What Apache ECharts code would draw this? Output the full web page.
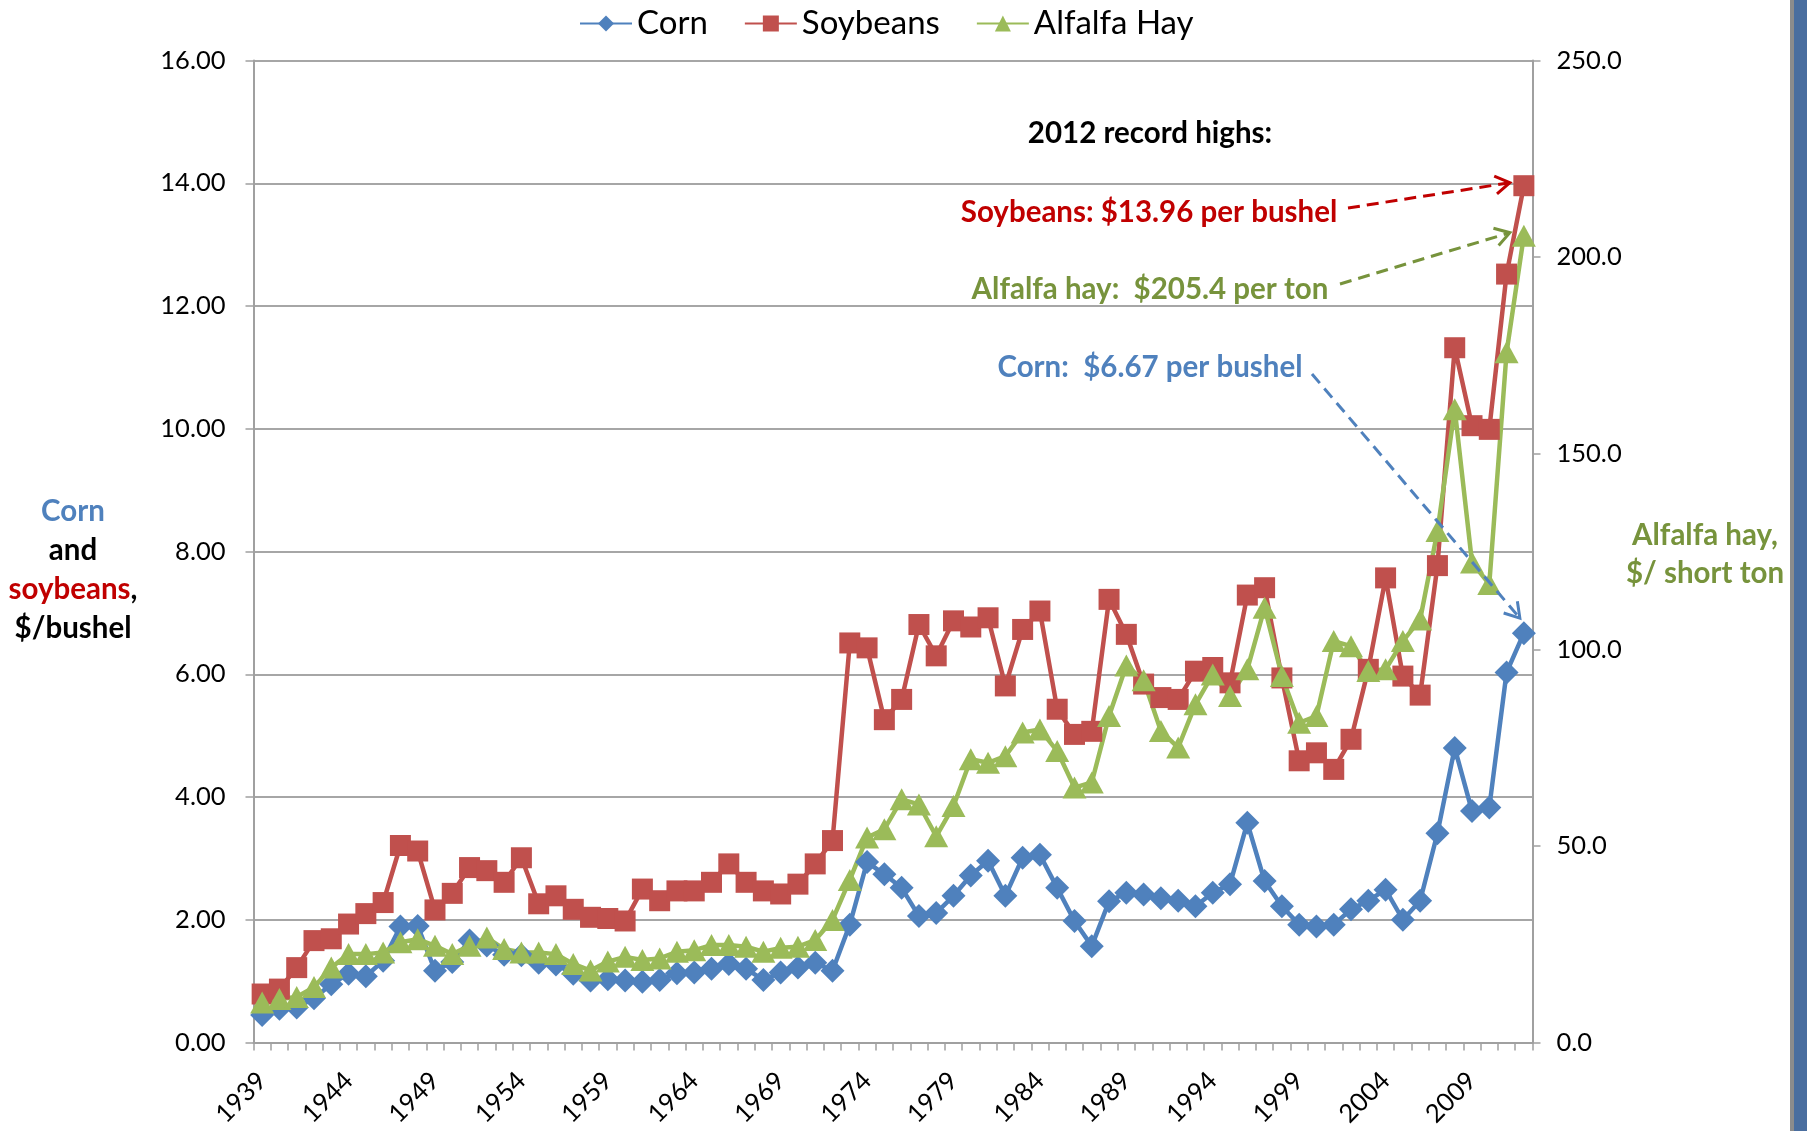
<!DOCTYPE html>
<html>
<head>
<meta charset="utf-8">
<script src="https://cdn.jsdelivr.net/npm/echarts@6/dist/echarts.min.js"></script>
<style>
html,body{margin:0;padding:0;background:#fff;}
#c{width:1807px;height:1131px;}
</style>
</head>
<body>
<div id="c"></div>
<script>
const years = ['1939','1940','1941','1942','1943','1944','1945','1946','1947','1948','1949','1950','1951','1952','1953','1954','1955','1956','1957','1958','1959','1960','1961','1962','1963','1964','1965','1966','1967','1968','1969','1970','1971','1972','1973','1974','1975','1976','1977','1978','1979','1980','1981','1982','1983','1984','1985','1986','1987','1988','1989','1990','1991','1992','1993','1994','1995','1996','1997','1998','1999','2000','2001','2002','2003','2004','2005','2006','2007','2008','2009','2010','2011','2012'];

const corn = [0.45,0.55,0.57,0.72,0.95,1.12,1.08,1.33,1.89,1.90,1.17,1.31,1.66,1.58,1.43,1.42,1.30,1.27,1.12,1.01,1.03,1.01,0.99,1.02,1.13,1.14,1.20,1.28,1.20,1.02,1.14,1.22,1.30,1.17,1.92,2.94,2.74,2.52,2.06,2.11,2.39,2.72,2.96,2.39,3.01,3.06,2.52,1.98,1.57,2.30,2.44,2.41,2.35,2.31,2.22,2.44,2.58,3.58,2.63,2.22,1.92,1.89,1.92,2.17,2.31,2.49,2.00,2.31,3.41,4.80,3.77,3.83,6.03,6.67];

const soybeans = [0.79,0.87,1.22,1.66,1.69,1.93,2.10,2.28,3.21,3.12,2.16,2.43,2.85,2.80,2.61,3.01,2.26,2.39,2.17,2.04,2.02,1.98,2.50,2.31,2.47,2.47,2.61,2.91,2.61,2.47,2.42,2.58,2.91,3.29,6.51,6.43,5.26,5.59,6.81,6.30,6.87,6.77,6.92,5.81,6.73,7.03,5.43,5.02,5.07,7.22,6.65,5.84,5.62,5.59,6.05,6.11,5.86,7.29,7.41,5.94,4.59,4.72,4.45,4.94,6.08,7.57,5.97,5.66,7.77,11.32,10.05,9.99,12.52,13.96];

const alfalfa = [10.2,11.1,11.6,14.1,19.1,22.5,22.5,22.9,25.5,26.3,24.6,22.5,24.6,26.7,23.8,22.9,22.9,22.5,20.0,18.3,20.6,21.8,21.0,21.4,23.1,23.5,24.8,24.8,24.4,23.1,24.1,24.4,26.1,31.2,41.4,52.2,54.3,61.9,60.6,52.5,60.2,72.1,71.2,72.9,78.9,79.7,74.2,64.9,66.2,83.1,96.0,92.2,79.3,75.1,86.1,93.7,88.2,95.0,110.7,93.3,81.4,83.1,102.2,100.9,94.6,95.0,102.2,107.7,130.2,161.2,122.2,116.7,175.7,205.4];

const leftTicks = {min:0, max:16, interval:2};
const rightTicks = {min:0, max:250, interval:50};

const FONT = 'Lato, "Open Sans", sans-serif';
const C_CORN = '#4F81BD', C_SOY = '#C0504D', C_ALF = '#9BBB59';
const T_RED = '#C00000', T_GREEN = '#77933C', T_BLUE = '#4F81BD';
const TS = 29.5;   // annotation font size
const AX = 25.5;   // axis label font size

const chart = echarts.init(document.getElementById('c'), null, {renderer:'canvas'});

const option = {
  backgroundColor: '#ffffff',
  animation: false,
  textStyle: {fontFamily: FONT},
  legend: {
    top: 2, left: 574,
    itemWidth: 52, itemHeight: 20, itemGap: 36,
    textStyle: {fontSize: 33, color: '#000', fontFamily: FONT},
    data: ['Corn','Soybeans','Alfalfa Hay']
  },
  grid: {left: 253.5, right: 274.5, top: 60.5, bottom: 88.5, containLabel: false},
  xAxis: {
    type: 'category', data: years, boundaryGap: true,
    axisLine: {lineStyle: {color: '#a0a0a0', width: 2}},
    axisTick: {show: true, interval: 0, length: 8, lineStyle: {color: '#a0a0a0', width: 1.5}},
    axisLabel: {interval: 4, rotate: 45, fontSize: AX, color: '#000', margin: 34, fontFamily: FONT},
    splitLine: {show: false}
  },
  yAxis: [
    {
      type: 'value', position: 'left',
      min: leftTicks.min, max: leftTicks.max, interval: leftTicks.interval,
      axisLine: {show: true, lineStyle: {color: '#a0a0a0', width: 2}},
      axisTick: {show: true, length: 8, lineStyle: {color: '#a0a0a0', width: 1.5}},
      axisLabel: {fontSize: AX, color: '#000', margin: 28, fontFamily: FONT, formatter: v => v.toFixed(2)},
      splitLine: {show: true, lineStyle: {color: '#a6a6a6', width: 2}}
    },
    {
      type: 'value', position: 'right',
      min: rightTicks.min, max: rightTicks.max, interval: rightTicks.interval,
      axisLine: {show: true, lineStyle: {color: '#a0a0a0', width: 2}},
      axisTick: {show: true, length: 8, lineStyle: {color: '#a0a0a0', width: 1.5}},
      axisLabel: {fontSize: AX, color: '#000', margin: 24, fontFamily: FONT, formatter: v => v.toFixed(1)},
      splitLine: {show: false}
    }
  ],
  series: [
    {name:'Corn', type:'line', data: corn, yAxisIndex:0, symbol:'diamond', symbolSize:24, showAllSymbol:true,
     itemStyle:{color:C_CORN}, lineStyle:{color:C_CORN, width:4.5}},
    {name:'Soybeans', type:'line', data: soybeans, yAxisIndex:0, symbol:'rect', symbolSize:21, showAllSymbol:true,
     itemStyle:{color:C_SOY}, lineStyle:{color:C_SOY, width:4.5}},
    {name:'Alfalfa Hay', type:'line', data: alfalfa, yAxisIndex:1, symbol:'triangle', symbolSize:[24,22], showAllSymbol:true,
     itemStyle:{color:C_ALF}, lineStyle:{color:C_ALF, width:4.5}}
  ]
};
chart.setOption(option);

function arrow(x1, y1, x2, y2, color) {
  const ang = Math.atan2(y2 - y1, x2 - x1);
  const L = 17, a = Math.PI / 180 * 32;
  const p1 = [x2 - L * Math.cos(ang - a), y2 - L * Math.sin(ang - a)];
  const p2 = [x2 - L * Math.cos(ang + a), y2 - L * Math.sin(ang + a)];
  return [
    {type:'line', shape:{x1, y1, x2, y2}, style:{stroke: color, lineWidth: 3, lineDash:[12,7]}, z: 100},
    {type:'polyline', shape:{points:[p1,[x2,y2],p2]}, style:{stroke: color, lineWidth: 3, fill: null}, z: 100}
  ];
}

function txt(x, y, text, color, size) {
  return {
    type:'text', x: x, y: y, z: 100,
    style: {text: text, fill: color, font: 'bold ' + size + 'px ' + FONT,
            textAlign:'center', textVerticalAlign:'middle', align:'center', verticalAlign:'middle'}
  };
}

const last = years.length - 1;
const pSoy = chart.convertToPixel({seriesIndex:1}, [last, soybeans[last]]);
const pAlf = chart.convertToPixel({seriesIndex:2}, [last, alfalfa[last]]);
const pCorn = chart.convertToPixel({seriesIndex:0}, [last, corn[last]]);

const graphics = [
  {type:'rect', shape:{x:1790, y:0, width:4, height:1131}, style:{fill:'#8c8c8c'}, z: 0},
  {type:'rect', shape:{x:1794, y:0, width:13, height:1131}, style:{fill:'#4a6e9f'}, z: 0},
  txt(1150, 133, '2012 record highs:', '#000', TS),
  txt(1149, 212, 'Soybeans: $13.96 per bushel', T_RED, TS),
  txt(1150, 289, 'Alfalfa hay:  $205.4 per ton', T_GREEN, TS),
  txt(1150, 367, 'Corn:  $6.67 per bushel', T_BLUE, TS),
  ...arrow(1348, 208, pSoy[0] - 14, pSoy[1] - 3, T_RED),
  ...arrow(1340, 284, pAlf[0] - 14, pAlf[1] - 3, T_GREEN),
  ...arrow(1312, 374, pCorn[0] - 4, pCorn[1] - 15, T_BLUE),
  txt(73, 511, 'Corn', T_BLUE, TS),
  txt(73, 550, 'and', '#000', TS),
  {type:'text', x: 73, y: 589, z:100,
   style:{text:'{r|soybeans}{k|,}', textAlign:'center', textVerticalAlign:'middle', align:'center', verticalAlign:'middle',
          font:'bold ' + TS + 'px ' + FONT,
          rich:{r:{fill:T_RED, color:T_RED, fontSize:TS, fontWeight:'bold', fontFamily:FONT},
                k:{fill:'#000', color:'#000', fontSize:TS, fontWeight:'bold', fontFamily:FONT}}}},
  txt(73, 628, '$/bushel', '#000', TS),
  txt(1705, 535, 'Alfalfa hay,', T_GREEN, TS),
  txt(1705, 573, '$/ short ton', T_GREEN, TS)
];
chart.setOption({graphic: graphics});
</script>
</body>
</html>
